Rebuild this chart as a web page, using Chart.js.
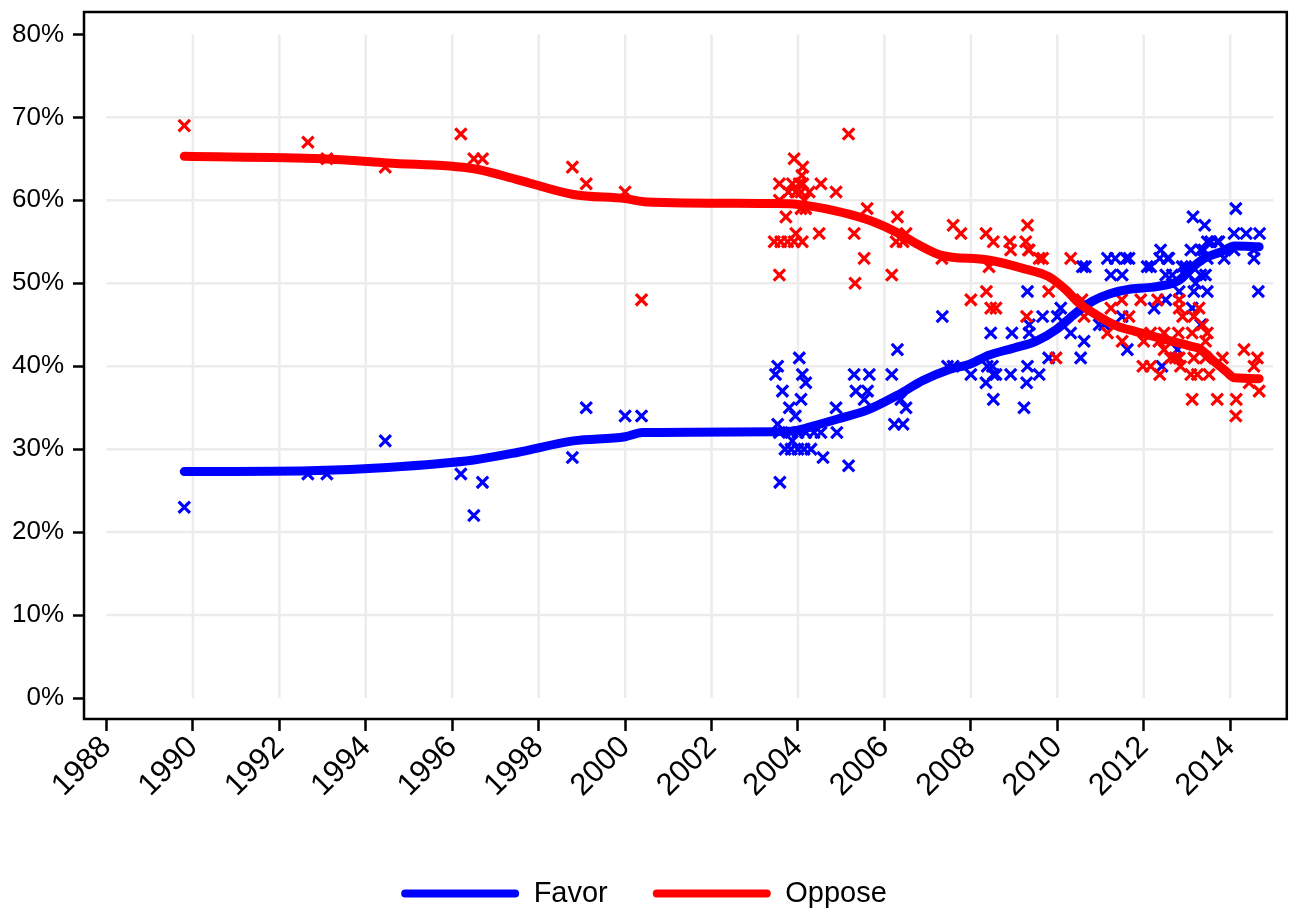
<!DOCTYPE html>
<html>
<head>
<meta charset="utf-8">
<script src="https://cdn.jsdelivr.net/npm/chart.js@4.4.0/dist/chart.umd.min.js"></script>
<style>
html, body { margin: 0; padding: 0; background: #fff; }
canvas { display: block; }
</style>
</head>
<body>
<canvas id="chart" width="1298" height="918"></canvas>
<script>
// axis ticks
const yearTicks = [1988, 1990, 1992, 1994, 1996, 1998, 2000, 2002, 2004, 2006, 2008, 2010, 2012, 2014];
const percentTicks = [0, 10, 20, 30, 40, 50, 60, 70, 80];

// individual polls (Favor)
const favorDates = [
  1989.8, 1992.66, 1993.1, 1994.45, 1996.2, 1996.5, 1996.7, 1998.78, 1999.1, 2000.0, 2000.38,
  2003.48, 2003.53, 2003.53, 2003.57, 2003.58, 2003.64, 2003.7, 2003.8, 2003.84, 2003.84, 2003.87, 2003.94,
  2004.0, 2004.0, 2004.03, 2004.07, 2004.1, 2004.14, 2004.18, 2004.18, 2004.3, 2004.37, 2004.53, 2004.58,
  2004.88, 2004.9, 2005.17, 2005.3, 2005.34, 2005.53, 2005.61, 2005.65, 2006.17, 2006.23, 2006.3, 2006.38,
  2006.43, 2006.5,
  2007.34, 2007.46, 2007.59, 2008.0, 2008.35, 2008.38, 2008.46, 2008.5, 2008.52, 2008.52, 2008.58, 2008.92,
  2008.95, 2009.23, 2009.29, 2009.31, 2009.31, 2009.35, 2009.35, 2009.58, 2009.66, 2009.8, 2010.0, 2010.08,
  2010.31, 2010.54, 2010.58, 2010.62, 2010.65,
  2010.97, 2011.09, 2011.16, 2011.24, 2011.34, 2011.5, 2011.5, 2011.59, 2011.62, 2011.66, 2012.08, 2012.16,
  2012.24, 2012.37, 2012.39, 2012.42, 2012.51, 2012.51, 2012.55, 2012.58, 2012.66, 2012.78, 2012.82, 2012.89,
  2012.97, 2013.05, 2013.09, 2013.12, 2013.14, 2013.16, 2013.2, 2013.32, 2013.32, 2013.32, 2013.39, 2013.41,
  2013.43, 2013.47, 2013.47, 2013.47, 2013.55, 2013.7, 2013.74, 2013.86, 2014.09, 2014.09, 2014.13, 2014.37,
  2014.55, 2014.55, 2014.65, 2014.68
];
const favorValues = [
  23, 27, 27, 31, 27, 22, 26, 29, 35, 34, 34,
  39, 40, 33, 32, 26, 37, 30, 35, 32, 30, 31, 34,
  32, 30, 41, 36, 39, 30, 38, 32, 30, 32, 32, 29,
  35, 32, 28, 39, 37, 36, 37, 39, 39, 33, 42, 36,
  33, 35,
  46, 40, 40, 39, 38, 40, 44, 40, 36, 39, 39, 39,
  44, 35, 38, 49, 40, 45, 44, 39, 46, 41, 46, 47,
  44, 41, 52, 43, 52,
  45, 45, 53, 51, 53, 51, 46, 53, 42, 53, 52, 52,
  47, 53, 54, 40, 51, 48, 53, 53, 51, 42, 49, 52,
  52, 51, 54, 47, 58, 49, 50, 54, 51, 45, 54, 57,
  51, 53, 49, 55, 55, 55, 55, 53, 56, 54, 59, 56,
  54, 53, 49, 56
];

// individual polls (Oppose)
const opposeDates = [
  1989.8, 1992.66, 1993.1, 1994.45, 1996.2, 1996.5, 1996.7, 1998.78, 1999.1, 2000.0, 2000.38,
  2003.45, 2003.57, 2003.57, 2003.57, 2003.6, 2003.72, 2003.76, 2003.78, 2003.87, 2003.91, 2003.91, 2003.95,
  2003.95, 2004.03, 2004.07, 2004.07, 2004.09, 2004.1, 2004.11, 2004.11, 2004.15, 2004.18, 2004.26, 2004.49,
  2004.53, 2004.88, 2005.17, 2005.3, 2005.32, 2005.53, 2005.6, 2006.17, 2006.27, 2006.3, 2006.43, 2006.5,
  2007.33, 2007.59, 2007.77, 2008.0, 2008.35, 2008.36, 2008.42, 2008.46, 2008.52, 2008.58, 2008.9, 2008.92,
  2009.27, 2009.29, 2009.31, 2009.33, 2009.35, 2009.58, 2009.66, 2009.8, 2009.97, 2010.31, 2010.57, 2010.62,
  2011.16, 2011.24, 2011.49, 2011.5, 2011.66, 2011.93, 2011.98,
  2012.0, 2012.16, 2012.16, 2012.32, 2012.35, 2012.37, 2012.47, 2012.47, 2012.62, 2012.73, 2012.8, 2012.82,
  2012.82, 2012.82, 2012.85, 2012.9, 2013.09, 2013.12, 2013.12, 2013.16, 2013.16, 2013.24, 2013.28, 2013.36,
  2013.43, 2013.43, 2013.47, 2013.51, 2013.7, 2013.82, 2014.13, 2014.14, 2014.32, 2014.44, 2014.55, 2014.63,
  2014.67
];
const opposeValues = [
  69, 67, 65, 64, 68, 65, 65, 64, 62, 61, 48,
  55, 62, 60, 51, 55, 58, 55, 61, 62, 65, 55, 61,
  56, 62, 61, 59, 63, 55, 64, 62, 60, 59, 61, 56,
  62, 61, 68, 56, 50, 53, 59, 51, 55, 58, 55, 56,
  53, 57, 56, 48, 56, 49, 52, 47, 55, 47, 55, 54,
  55, 46, 57, 54, 54, 53, 53, 49, 41, 53, 48, 46,
  44, 47, 48, 43, 46, 48, 40,
  43, 44, 40, 48, 43, 39, 44, 42, 41, 41, 44, 48,
  47, 41, 40, 46, 39, 44, 36, 46, 41, 39, 47, 45,
  43, 41, 44, 39, 36, 41, 34, 36, 42, 38, 40, 41,
  37
];

// smoothed trend lines
const favorTrendDates = [1989.8, 1992.7, 1994.5, 1996.5, 1997.5, 1998.8, 2000.0, 2000.4, 2003.5, 2004.0, 2004.5,
  2004.9, 2005.6, 2006.3, 2006.9, 2007.5, 2008.0, 2008.4, 2009.0, 2009.5, 2010.0, 2010.4, 2010.8, 2011.2,
  2011.7, 2012.3, 2012.8, 2013.1, 2013.4, 2013.8, 2014.1, 2014.67];
const favorTrendValues = [27.3, 27.4, 27.8, 28.7, 29.6, 31.0, 31.5, 32.0, 32.1, 32.3, 33.0,
  33.6, 34.7, 36.5, 38.3, 39.6, 40.3, 41.3, 42.2, 43.0, 44.5, 46.3, 47.8, 48.7,
  49.3, 49.6, 50.3, 51.8, 53.0, 53.8, 54.5, 54.4];
const opposeTrendDates = [1989.8, 1993.0, 1994.5, 1996.5, 1997.5, 1998.8, 2000.0, 2000.5, 2003.5, 2004.0, 2004.4,
  2005.2, 2005.8, 2006.3, 2006.8, 2007.3, 2008.4, 2009.2, 2009.8, 2010.2, 2010.5, 2010.9, 2011.4, 2011.8,
  2012.5, 2013.1, 2013.3, 2013.6, 2013.9, 2014.1, 2014.67];
const opposeTrendValues = [65.3, 65.0, 64.5, 63.8, 62.5, 60.7, 60.2, 59.8, 59.6, 59.5, 59.2,
  58.3, 57.3, 56.1, 54.6, 53.4, 52.8, 51.8, 50.8, 49.2, 47.6, 46.2, 44.8, 44.2,
  43.2, 42.4, 42.1, 40.7, 39.4, 38.6, 38.5];

const seriesNames = ['Favor', 'Oppose'];
const BLUE = '#0000ff';
const RED = '#ff0000';
const FONT = "'Liberation Sans', Arial, sans-serif";

function toPoints(xs, ys) {
  return xs.map((x, i) => ({ x: x, y: ys[i] }));
}

// light grid only inside the data range, plus black frame
const frameGrid = {
  id: 'frameGrid',
  beforeDatasetsDraw(chart) {
    const { ctx, scales: { x, y } } = chart;
    const left = x.getPixelForValue(1988), right = x.getPixelForValue(2015);
    const bottom = y.getPixelForValue(0), top = y.getPixelForValue(80);
    ctx.save();
    ctx.strokeStyle = '#ececec';
    ctx.lineWidth = 2.5;
    ctx.beginPath();
    yearTicks.slice(1).forEach(t => {
      const px = x.getPixelForValue(t);
      ctx.moveTo(px, bottom);
      ctx.lineTo(px, top);
    });
    percentTicks.slice(1, -1).forEach(t => {
      const py = y.getPixelForValue(t);
      ctx.moveTo(left, py);
      ctx.lineTo(right, py);
    });
    ctx.stroke();
    ctx.restore();
  },
  afterDraw(chart) {
    const { ctx, chartArea: a } = chart;
    ctx.save();
    ctx.strokeStyle = '#000';
    ctx.lineWidth = 2.5;
    ctx.strokeRect(a.left, a.top, a.right - a.left, a.bottom - a.top);
    ctx.restore();
  }
};

const crossStyle = {
  pointStyle: 'crossRot',
  pointRadius: 8,
  pointBorderWidth: 3.2
};

new Chart(document.getElementById('chart'), {
  type: 'scatter',
  data: {
    datasets: [
      Object.assign({
        label: seriesNames[0],
        data: toPoints(favorDates, favorValues),
        borderColor: BLUE,
        backgroundColor: BLUE,
        order: 3
      }, crossStyle),
      Object.assign({
        label: seriesNames[1],
        data: toPoints(opposeDates, opposeValues),
        borderColor: RED,
        backgroundColor: RED,
        order: 2
      }, crossStyle),
      {
        label: seriesNames[0],
        data: toPoints(favorTrendDates, favorTrendValues),
        showLine: true,
        borderColor: BLUE,
        backgroundColor: BLUE,
        borderWidth: 9,
        borderCapStyle: 'round',
        cubicInterpolationMode: 'monotone',
        pointRadius: 0,
        order: 1
      },
      {
        label: seriesNames[1],
        data: toPoints(opposeTrendDates, opposeTrendValues),
        showLine: true,
        borderColor: RED,
        backgroundColor: RED,
        borderWidth: 9,
        borderCapStyle: 'round',
        cubicInterpolationMode: 'monotone',
        pointRadius: 0,
        order: 0
      }
    ]
  },
  options: {
    responsive: false,
    animation: false,
    devicePixelRatio: 1,
    layout: { padding: { top: 12, right: 10, left: 0, bottom: 0 } },
    plugins: {
      tooltip: { enabled: false },
      legend: {
        position: 'bottom',
        labels: {
          font: { family: FONT, size: 29 },
          color: '#000',
          boxWidth: 118,
          boxHeight: 8,
          padding: 45,
          useBorderRadius: true,
          borderRadius: 4,
          generateLabels(chart) {
            return chart.data.datasets
              .map((ds, i) => ({
                datasetIndex: i,
                text: ds.label,
                fillStyle: ds.borderColor,
                strokeStyle: ds.borderColor,
                lineWidth: 0,
                hidden: false,
                borderRadius: 4
              }))
              .filter(item => chart.data.datasets[item.datasetIndex].showLine);
          }
        }
      }
    },
    scales: {
      x: {
        type: 'linear',
        min: 1987.48,
        max: 2015.31,
        afterBuildTicks(scale) { scale.ticks = yearTicks.map(v => ({ value: v })); },
        afterFit(scale) { scale.height = 115; },
        grid: { drawOnChartArea: false, drawTicks: true, tickLength: 12, tickWidth: 2.5, tickColor: '#000' },
        border: { display: false },
        ticks: {
          font: { family: FONT, size: 31 },
          color: '#000',
          minRotation: 45,
          maxRotation: 45,
          padding: -2,
          callback: v => String(v)
        }
      },
      y: {
        type: 'linear',
        min: -2.53,
        max: 82.7,
        afterBuildTicks(scale) { scale.ticks = percentTicks.map(v => ({ value: v })); },
        afterFit(scale) {
          scale.width = 84;
          scale.paddingTop = 0;
          scale.paddingBottom = 0;
        },
        grid: { drawOnChartArea: false, drawTicks: true, tickLength: 11, tickWidth: 2.5, tickColor: '#000' },
        border: { display: false },
        ticks: {
          font: { family: FONT, size: 26 },
          color: '#000',
          padding: 9,
          callback: v => v + '%'
        }
      }
    }
  },
  plugins: [frameGrid]
});
</script>
</body>
</html>
